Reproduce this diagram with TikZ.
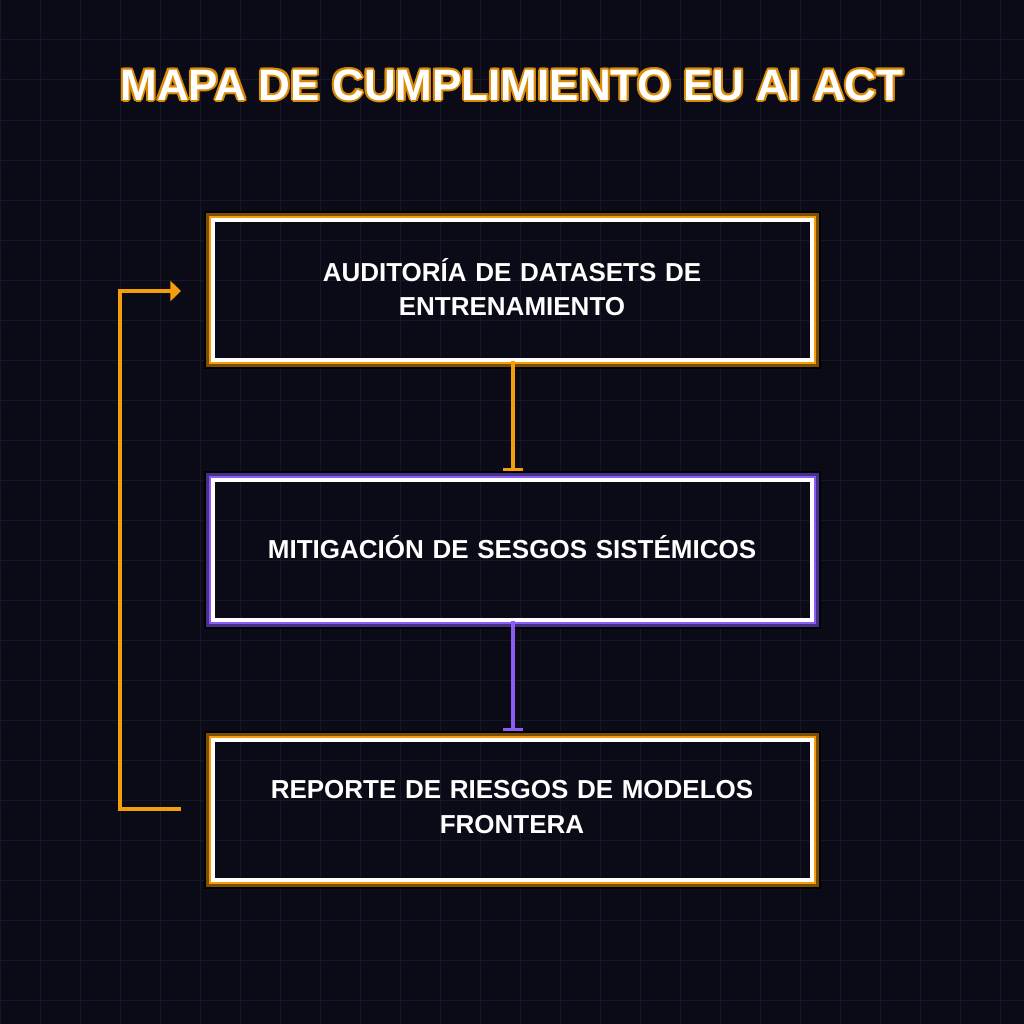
\documentclass[tikz,border=0pt]{standalone}
\usepackage{fontspec}
\setmainfont{Liberation Sans}
\usetikzlibrary{arrows.meta}
\definecolor{bg}{HTML}{0B0B18}
\definecolor{gridc}{HTML}{171728}
\definecolor{orng}{HTML}{F59E0B}
\definecolor{orngd}{HTML}{7A4F05}
\definecolor{titleo}{HTML}{D98A06}
\definecolor{purp}{HTML}{8B5CF6}
\definecolor{purpd}{HTML}{46308A}
\tikzset{
  px/.style={x=0.75pt,y=-0.75pt},
  boxtxt/.style={text=white,font=\bfseries\fontsize{19.5}{26}\selectfont,align=center,text width=440pt},
  titletxt/.style={font=\bfseries\fontsize{33}{40}\selectfont},
}
\newcommand{\glowbox}[6]{% x1 y1 x2 y2 color dark
  \draw[black,line width=3pt] (#1-4,#2-4) rectangle (#3+4,#4+4);
  \draw[#6,line width=4pt] (#1-1,#2-1) rectangle (#3+1,#4+1);
  \draw[#5,line width=1.5pt] (#1,#2) rectangle (#3,#4);
  \draw[white,line width=3pt] (#1+3,#2+3) rectangle (#3-3,#4-3);
}
\begin{document}
\begin{tikzpicture}[px]
\fill[bg] (0,0) rectangle (1024,1024);
\useasboundingbox (0,0) rectangle (1024,1024);
\foreach \i in {0,40,...,1000}{
  \draw[gridc,line width=0.75pt] (\i,0) -- (\i,1024);
  \draw[gridc,line width=0.75pt] (0,\i) -- (1024,\i);
}
\foreach \dx/\dy in {-2/0,2/0,0/-2,0/2,-1.5/-1.5,1.5/1.5,-1.5/1.5,1.5/-1.5}
  \node[titletxt,text=titleo] at (512+\dx,85+\dy) {MAPA DE CUMPLIMIENTO EU AI ACT};
\node[titletxt,text=white] (title) at (512,85) {MAPA DE CUMPLIMIENTO EU AI ACT};
\glowbox{210}{217}{815}{363}{orng}{orngd}
\glowbox{210}{477}{815}{623}{purp}{purpd}
\glowbox{210}{737}{815}{883}{orng}{orngd}
\node[boxtxt] (a) at (512,287) {AUDITORÍA DE DATASETS DE\\ENTRENAMIENTO};
\node[boxtxt] (b) at (512,547) {MITIGACIÓN DE SESGOS SISTÉMICOS};
\node[boxtxt] (c) at (512,807) {REPORTE DE RIESGOS DE MODELOS\\FRONTERA};
\coordinate (a1) at (513,361); \coordinate (a2) at (513,471);
\coordinate (b1) at (513,621); \coordinate (b2) at (513,731);
\draw[orng,line width=3pt,-{Bar[width=15pt,line width=2pt]}] (a1) -- (a2);
\draw[purp,line width=3pt,-{Bar[width=15pt,line width=2pt]}] (b1) -- (b2);
\coordinate (c1) at (181,809); \coordinate (c2) at (120,809);
\coordinate (c3) at (120,291); \coordinate (c4) at (181,291);
\draw[orng,line width=3pt,-{Triangle[length=8pt,width=15pt]}] (c1) -- (c2) -- (c3) -- (c4);
\end{tikzpicture}
\end{document}
